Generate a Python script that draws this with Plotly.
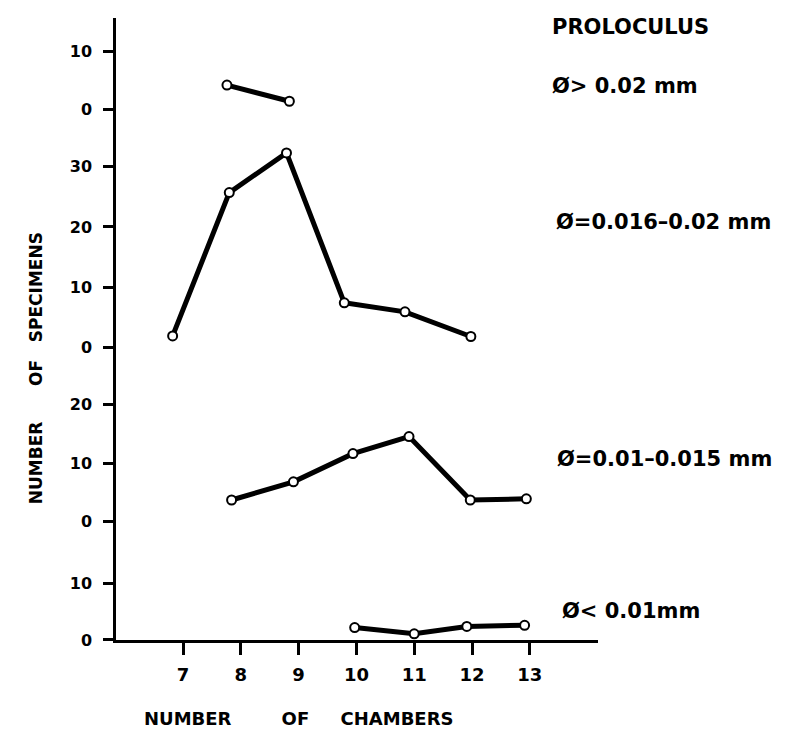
import plotly.graph_objects as go

# ---- data ----
# Proloculus > 0.02 mm
x_p1 = [7.76, 8.84]
y_p1 = [4.2, 1.4]
# Proloculus 0.016 - 0.02 mm
x_p2 = [6.82, 7.80, 8.79, 9.79, 10.84, 11.98]
y_p2 = [1.9, 25.7, 32.3, 7.4, 5.9, 1.8]
# Proloculus 0.01 - 0.015 mm
x_p3 = [7.84, 8.91, 9.94, 10.91, 11.97, 12.94]
y_p3 = [3.7, 6.8, 11.6, 14.5, 3.7, 3.9]
# Proloculus < 0.01 mm
x_p4 = [9.97, 11.0, 11.91, 12.91]
y_p4 = [2.2, 1.1, 2.4, 2.6]

x_ticks = [7, 8, 9, 10, 11, 12, 13]
labels = ["PROLOCULUS", "Ø> 0.02 mm", "Ø=0.016–0.02 mm", "Ø=0.01–0.015 mm", "Ø< 0.01mm"]

FONT = "DejaVu Sans"
line_style = dict(color="black", width=5)
marker_style = dict(symbol="circle", size=9, color="white", line=dict(color="black", width=2))

fig = go.Figure()
series = [(x_p4, y_p4, "y"), (x_p3, y_p3, "y2"), (x_p2, y_p2, "y3"), (x_p1, y_p1, "y4")]
for xs, ys, ax in series:
    fig.add_trace(go.Scatter(x=xs, y=ys, yaxis=ax, xaxis="x", mode="lines+markers",
                             line=line_style, marker=marker_style, showlegend=False,
                             cliponaxis=False))

yax_common = dict(showline=True, linecolor="black", linewidth=2.5, ticks="outside",
                  ticklen=10, tickwidth=2.5, tickcolor="black", showgrid=False,
                  zeroline=False, anchor="x", ticklabelstandoff=8,
                  tickfont=dict(family=FONT, size=16, color="black", weight="bold"))

fig.update_layout(
    width=788, height=741,
    margin=dict(l=116, r=190, t=18, b=101),
    paper_bgcolor="white", plot_bgcolor="white",
    xaxis=dict(range=[5.84, 14.18], tickvals=x_ticks, showline=True, linecolor="black",
               linewidth=2.5, ticks="outside", ticklen=12, tickwidth=2.5, tickcolor="black",
               showgrid=False, zeroline=False, anchor="y", ticklabelstandoff=5,
               tickfont=dict(family=FONT, size=18, color="black", weight="bold")),
    yaxis=dict(domain=[0, 0.1447], range=[0, 15.9], tickvals=[0, 10], **yax_common),
    yaxis2=dict(domain=[0.1447, 0.4260], range=[-4.82, 24.99], tickvals=[0, 10, 20], **yax_common),
    yaxis3=dict(domain=[0.4260, 0.8119], range=[-4.60, 35.27], tickvals=[0, 10, 20, 30], **yax_common),
    yaxis4=dict(domain=[0.8119, 1.0], range=[-4.46, 15.85], tickvals=[0, 10], **yax_common),
)

ann_font = dict(family=FONT, size=21, color="black", weight="bold")
right_pos = [(0.9005, 0.986), (0.9005, 0.8907), (0.909, 0.672), (0.911, 0.291), (0.921, 0.0466)]
for txt, (ax_, ay_) in zip(labels, right_pos):
    fig.add_annotation(text=txt, x=ax_, y=ay_, xref="paper", yref="paper",
                       xanchor="left", yanchor="middle", showarrow=False, font=ann_font)

nb = "\u00a0"
fig.add_annotation(text="NUMBER" + nb * 6 + "OF" + nb * 3 + "SPECIMENS", x=-0.166, y=0.437,
                   xref="paper", yref="paper", textangle=-90, showarrow=False,
                   xanchor="center", yanchor="middle",
                   font=dict(family=FONT, size=17, color="black", weight="bold"))
fig.add_annotation(text="NUMBER" + nb * 8 + "OF" + nb * 5 + "CHAMBERS", x=0.3797, y=-0.127,
                   xref="paper", yref="paper", showarrow=False,
                   xanchor="center", yanchor="middle",
                   font=dict(family=FONT, size=18, color="black", weight="bold"))

fig.write_html("out.html")
